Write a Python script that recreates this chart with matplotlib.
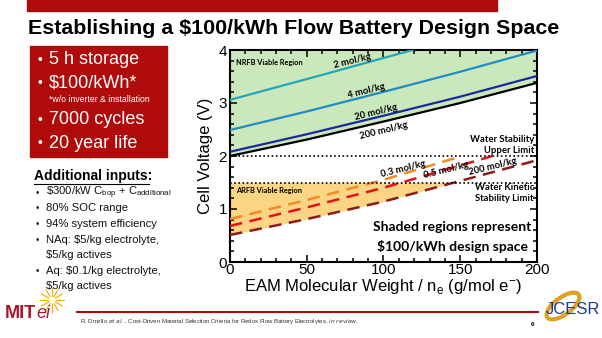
import matplotlib
matplotlib.use("Agg")
import matplotlib.pyplot as plt
from matplotlib.patches import Rectangle, Ellipse
from matplotlib.ticker import MultipleLocator
import numpy as np

# ---------------- data ----------------
x_2mol = [0, 60, 119]
y_2mol = [3.06, 3.53, 4.0]
x_4mol = [0, 50, 100, 150, 200]
y_4mol = [2.49, 2.84, 3.21, 3.59, 3.99]
x_20mol = [0, 50, 100, 150, 200]
y_20mol = [2.08, 2.41, 2.76, 3.12, 3.51]
x_200mol = [0, 50, 100, 150, 200]
y_200mol = [2.00, 2.31, 2.65, 3.00, 3.38]

x_03aq = [0, 50, 100, 150]
y_03aq = [0.81, 1.17, 1.55, 1.99]
x_05aq = [0, 50, 100, 171]
y_05aq = [0.68, 1.03, 1.40, 2.0]
x_200aq = [0, 50, 100, 150, 200]
y_200aq = [0.51, 0.81, 1.14, 1.53, 1.92]

water_upper = 2.0
water_kinetic = 1.5

x_ticks = [0, 50, 100, 150, 200]
y_ticks = [0, 1, 2, 3, 4]

W, H = 602, 338
fig = plt.figure(figsize=(W / 100, H / 100), dpi=100)
fig.patch.set_facecolor("white")


def fx(px):
    return px / W


def fy(py):
    return 1 - py / H


SANS = ["Liberation Sans", "DejaVu Sans"]
CAL = ["Lato", "DejaVu Sans"]
RED = "#b00b0b"

# ---------------- slide decorations ----------------
fig.patches.append(Rectangle((fx(27), fy(11)), fx(497) - fx(27), fy(0) - fy(11),
                             transform=fig.transFigure, color=RED, zorder=0))
fig.text(fx(28), fy(28), "Establishing a $100/kWh Flow Battery Design Space",
         family=SANS, weight="bold", fontsize=15.4, va="center", ha="left", color="black")

# red box
fig.patches.append(Rectangle((fx(30), fy(157)), fx(167) - fx(30), fy(46) - fy(157),
                             transform=fig.transFigure, color=RED, zorder=0))
for yy, t in [(60, "5 h storage"), (83, "$100/kWh*"), (120, "7000 cycles"), (143, "20 year life")]:
    fig.text(fx(37), fy(yy), "•", family=SANS, fontsize=10, color="white", va="center")
    fig.text(fx(49), fy(yy), t, family=SANS, fontsize=13, color="white", va="center")
fig.text(fx(49), fy(99), "*w/o inverter & installation", family=SANS, fontsize=6.3,
         color="white", va="center")

# additional inputs
fig.text(fx(34), fy(176), "Additional inputs:", family=SANS, fontsize=10, weight="bold",
         va="center", color="black")
fig.lines.append(plt.Line2D([fx(34), fx(149)], [fy(184), fy(184)], transform=fig.transFigure,
                            color="black", lw=0.8))
items = [(193, r"\$300/kW C$_\mathregular{bop}$ + C$_\mathregular{additional}$"),
         (208, "80% SOC range"),
         (224, "94% system efficiency"),
         (240, "NAq: $5/kg electrolyte,"),
         (255, "$5/kg actives"),
         (271, "Aq: $0.1/kg electrolyte,"),
         (286, "$5/kg actives")]
bullet_rows = {193, 208, 224, 240, 271}
for yy, t in items:
    if yy in bullet_rows:
        fig.text(fx(36), fy(yy), "•", family=SANS, fontsize=7, va="center", color="#222222")
    fig.text(fx(46), fy(yy), t, family=SANS, fontsize=8.1, va="center", color="#111111")

# footer
fig.lines.append(plt.Line2D([fx(77), fx(538)], [fy(312), fy(312)], transform=fig.transFigure,
                            color=RED, lw=1.5))
fig.text(fx(80), fy(322), "R. Dmello $\\it{et\\ al.}$, Cost-Driven Material Selection Criteria for "
         "Redox Flow Battery Electrolytes, $\\it{in\\ review.}$", family=SANS, fontsize=4.3,
         va="center", color="#333333")
fig.text(fx(531), fy(325), "6", family=SANS, fontsize=4.5, weight="bold", va="center")

# MITei logo
fig.text(fx(5), fy(313), "MIT", family=SANS, fontsize=13, weight="bold", color="#a3162b",
         va="center")
fig.text(fx(36), fy(313), "ei", family=SANS, fontsize=13, style="italic", color="#a3162b",
         va="center")
for ang in np.arange(0, 360, 30):
    r0, r1 = 4, 12
    a = np.deg2rad(ang)
    cx, cy = 52, 300
    fig.lines.append(plt.Line2D([fx(cx + r0 * np.cos(a)), fx(cx + r1 * np.cos(a))],
                                [fy(cy + r0 * np.sin(a)), fy(cy + r1 * np.sin(a))],
                                transform=fig.transFigure, color="#f2a900", lw=0.8))

# JCESR logo
fig.patches.append(Ellipse((fx(563), fy(306)), 22 / W, 30 / H, angle=-30,
                           transform=fig.transFigure, fill=False, edgecolor="#e0a020", lw=3))
fig.text(fx(546), fy(309), "JCESR", family=SANS, fontsize=12, color="#1f3b8f",
         va="center", ha="left")

# ---------------- chart ----------------
ax = fig.add_axes([fx(230), fy(262), fx(537) - fx(230), fy(50) - fy(262)])
ax.set_xlim(0, 200)
ax.set_ylim(0, 4)

ax.fill_between(x_200mol, y_200mol, 4, color="#cbe8bd", lw=0, zorder=1)
y200 = np.array(y_200aq)
ax.fill_between(x_200aq, y200, water_kinetic, where=y200 <= water_kinetic, interpolate=True,
                color="#fbd584", lw=0, zorder=1)

ax.plot(x_2mol, y_2mol, color="#23a7b8", lw=1.6, zorder=3)
ax.plot(x_4mol, y_4mol, color="#1f8cc4", lw=1.6, zorder=3)
ax.plot(x_20mol, y_20mol, color="#1a2a9c", lw=1.6, zorder=3)
ax.plot(x_200mol, y_200mol, color="black", lw=1.6, zorder=3)

dash = (0, (5, 3))
ax.plot(x_03aq, y_03aq, color="#f28a2a", lw=1.8, ls=dash, zorder=3)
ax.plot(x_05aq, y_05aq, color="#e5121b", lw=1.8, ls=dash, zorder=3)
ax.plot(x_200aq, y_200aq, color="#8c1c1c", lw=1.8, ls=dash, zorder=3)

ax.axhline(water_upper, color="black", ls=(0, (1, 1.5)), lw=1.2, zorder=4)
ax.axhline(water_kinetic, color="black", ls=(0, (1, 1.5)), lw=1.2, zorder=4)

reg = dict(family=CAL, weight="bold", fontsize=5.3, color="black", zorder=5)
ax.text(4, 3.77, "NRFB Viable Region", ha="left", va="center", **reg)
ax.text(4, 1.34, "ARFB Viable Region", ha="left", va="center", **reg)
ann = dict(family=CAL, weight="bold", fontsize=6.8, color="black", zorder=5)
rot = 14
ax.text(80, 3.80, "2 mol/kg", ha="center", va="center", rotation=rot, **ann)
ax.text(89, 3.23, "4 mol/kg", ha="center", va="center", rotation=rot, **ann)
ax.text(95, 2.82, "20 mol/kg", ha="center", va="center", rotation=rot, **ann)
ax.text(100, 2.47, "200 mol/kg", ha="center", va="center", rotation=rot, **ann)
ax.text(113, 1.75, "0.3 mol/kg", ha="center", va="center", rotation=rot, **ann)
ax.text(141, 1.73, "0.5 mol/kg", ha="center", va="center", rotation=rot, **ann)
ax.text(171, 1.80, "200 mol/kg", ha="center", va="center", rotation=rot, **ann)
ax.text(198, 2.31, "Water Stability", ha="right", va="center", **ann)
ax.text(198, 2.10, "Upper Limit", ha="right", va="center", **ann)
ax.text(198, 1.40, "Water Kinetic", ha="right", va="center", **ann)
ax.text(198, 1.19, "Stability Limit", ha="right", va="center", **ann)
big = dict(family=CAL, weight="bold", fontsize=10, color="black", zorder=5)
ax.text(145, 0.66, "Shaded regions represent", ha="center", va="center", **big)
ax.text(145, 0.29, "$100/kWh design space", ha="center", va="center", **big)

ax.set_xticks(x_ticks)
ax.set_yticks(y_ticks)
ax.xaxis.set_minor_locator(MultipleLocator(10))
ax.yaxis.set_minor_locator(MultipleLocator(0.2))
ax.tick_params(which="both", direction="in", top=True, right=True, width=1.1)
ax.tick_params(which="major", length=5)
ax.tick_params(which="minor", length=3)
ax.tick_params(axis="x", labelsize=11, pad=1)
ax.tick_params(axis="y", labelsize=11, pad=2)
for lab in ax.get_xticklabels() + ax.get_yticklabels():
    lab.set_family(SANS)
for s in ax.spines.values():
    s.set_linewidth(1.5)

ax.set_ylabel("Cell Voltage (V)", family=SANS, fontsize=12, labelpad=4)
ax.set_xlabel(r"EAM Molecular Weight / n$_\mathregular{e}$ (g/mol e$^\mathregular{-}$)",
              family=SANS, fontsize=12, labelpad=0)

fig.savefig("out.png", dpi=100)
